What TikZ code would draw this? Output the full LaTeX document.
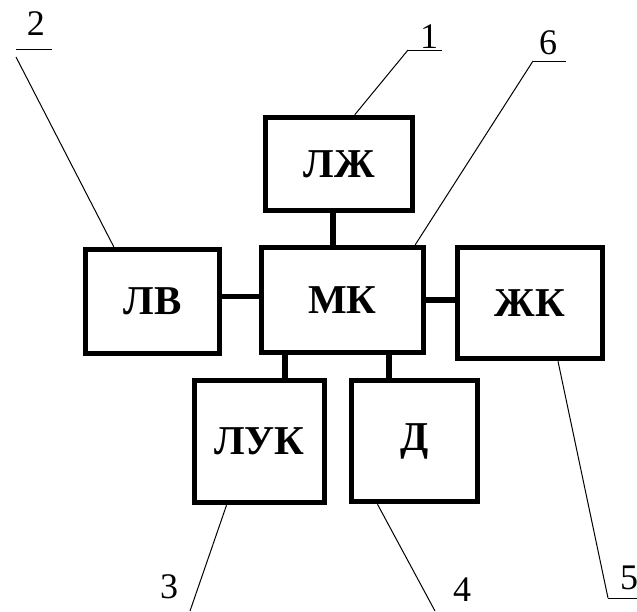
\documentclass[tikz,border=0pt]{standalone}
\usepackage{fontspec}
\setmainfont{Liberation Serif}
\usepackage{tikz}
\usetikzlibrary{calc}

\tikzset{
  blok/.style={draw, line width=5.5pt, inner sep=0pt, font=\bfseries\fontsize{41}{47}\selectfont},
  svyaz/.style={line width=5.5pt},
  vynoska/.style={line width=1pt},
  nomer/.style={inner sep=0pt, font=\fontsize{36}{42}\selectfont}
}

\begin{document}
\begin{tikzpicture}[x=1pt,y=1pt,yscale=-1,xscale=1]
\useasboundingbox (0,0) rectangle (637,611);

% Blocks
\node [blok, minimum width=147pt, minimum height=93pt]  (lzh) at (339,164)   {ЛЖ};
\node [blok, minimum width=162pt, minimum height=105pt] (mk)  at (342.5,300) {МК};
\node [blok, minimum width=134pt, minimum height=104pt] (lv)  at (152.5,301.5) {ЛВ};
\node [blok, minimum width=145pt, minimum height=111pt] (zhk) at (530,303)   {ЖК};
\node [blok, minimum width=130pt, minimum height=122pt] (luk) at (259.5,441.5) {ЛУК};
\node [blok, minimum width=126pt, minimum height=121pt] (d)   at (414.5,441) {Д};

% Links
\draw [svyaz] ([xshift=-6pt]lzh.south) -- ([xshift=-6pt]lzh.south |- mk.north);
\draw [svyaz] ([yshift=-5pt]lv.east) -- ([yshift=-5pt]lv.east -| mk.west);
\draw [svyaz] (mk.east) -- (mk.east -| zhk.west);
\draw [svyaz] ([xshift=25.5pt]luk.north) -- ([xshift=25.5pt]luk.north |- mk.south);
\draw [svyaz] ([xshift=-25.5pt]d.north) -- ([xshift=-25.5pt]d.north |- mk.south);

% Numbers
\node [nomer] (n1) at (429,37)  {1};
\node [nomer] (n2) at (36,24)   {2};
\node [nomer] (n3) at (169,587) {3};
\node [nomer] (n4) at (462,590) {4};
\node [nomer] (n5) at (629,578) {5};
\node [nomer] (n6) at (548,43)  {6};

% Leader lines
\coordinate (u1) at (408,50);
\coordinate (u2) at (16,49);
\coordinate (u5) at (608,598);
\coordinate (u6) at (533,61);
\coordinate (e3) at (190,611);
\coordinate (e4) at (435,611);
\draw [vynoska] (u1) -- ++(34,0);
\draw [vynoska] (u1) -- ([xshift=92pt]lzh.north west);
\draw [vynoska] (u2) -- ++(36,0);
\draw [vynoska] ([yshift=8pt]u2) -- ([xshift=31pt]lv.north west);
\draw [vynoska] (u6) -- ++(33,0);
\draw [vynoska] (u6) -- ([xshift=-11pt]mk.north east);
\draw [vynoska] (u5) -- ++(29,0);
\draw [vynoska] (u5) -- ([xshift=28pt]zhk.south);
\draw [vynoska] (e3) -- ([xshift=-33pt]luk.south);
\draw [vynoska] (e4) -- ([xshift=-37pt]d.south);

\end{tikzpicture}
\end{document}
